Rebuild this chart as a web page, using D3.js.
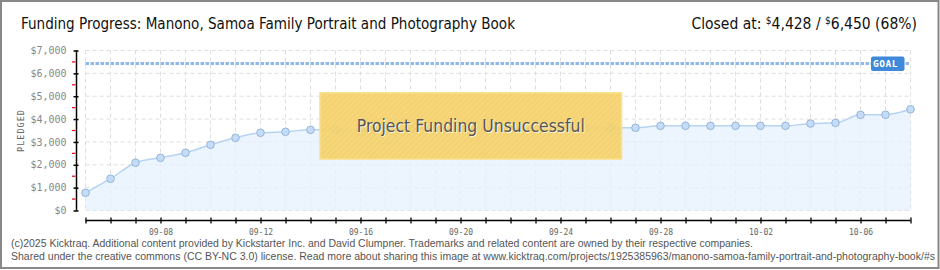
<!DOCTYPE html>
<html>
<head>
<meta charset="utf-8">
<script src="https://cdn.jsdelivr.net/npm/d3@7"></script>
<style>
  html, body { margin: 0; padding: 0; background: #fff; }
  svg { display: block; }
</style>
</head>
<body>
<div id="chart"></div>
<script>
// data
const days = ["2025-09-05","2025-09-06","2025-09-07","2025-09-08","2025-09-09","2025-09-10","2025-09-11",
  "2025-09-12","2025-09-13","2025-09-14","2025-09-15","2025-09-16","2025-09-17","2025-09-18","2025-09-19",
  "2025-09-20","2025-09-21","2025-09-22","2025-09-23","2025-09-24","2025-09-25","2025-09-26","2025-09-27",
  "2025-09-28","2025-09-29","2025-09-30","2025-10-01","2025-10-02","2025-10-03","2025-10-04","2025-10-05",
  "2025-10-06","2025-10-07","2025-10-08"];
const pledged = [775, 1390, 2090, 2305, 2525, 2875, 3180, 3400, 3445, 3530, 3535, 3545, 3560, 3570, 3580,
  3590, 3595, 3600, 3605, 3610, 3620, 3620, 3620, 3705, 3705, 3705, 3705, 3705, 3705, 3805, 3835, 4185, 4190, 4428];
const labelDays = ["2025-09-08","2025-09-12","2025-09-16","2025-09-20","2025-09-24","2025-09-28","2025-10-02","2025-10-06"];
const yTicks = [0, 1000, 2000, 3000, 4000, 5000, 6000, 7000];
const yMinor = [500, 1500, 2500, 3500, 4500, 5500, 6500];
const goal = 6450;
const closedAt = 4428;

const title = "Funding Progress: Manono, Samoa Family Portrait and Photography Book";
const footer1 = "(c)2025 Kicktraq. Additional content provided by Kickstarter Inc. and David Clumpner. Trademarks and related content are owned by their respective companies.";
const footer2 = "Shared under the creative commons (CC BY-NC 3.0) license. Read more about sharing this image at www.kicktraq.com/projects/1925385963/manono-samoa-family-portrait-and-photography-book/#s";

const W = 940, H = 270;
const parse = d3.timeParse("%Y-%m-%d");
const data = days.map((d, i) => ({ date: parse(d), value: pledged[i] }));

const x = d3.scaleTime()
  .domain(d3.extent(data, d => d.date))
  .range([85.5, 910.5]);
const y = d3.scaleLinear()
  .domain([0, 7000])
  .range([210.5, 50.5]);

const svg = d3.select("#chart").append("svg")
  .attr("width", W)
  .attr("height", H);

const defs = svg.append("defs");
const hatch = defs.append("pattern")
  .attr("id", "hatch")
  .attr("width", 4).attr("height", 4)
  .attr("patternUnits", "userSpaceOnUse")
  .attr("patternTransform", "rotate(45)");
hatch.append("rect").attr("width", 4).attr("height", 4).attr("fill", "#f6d36e");
hatch.append("line").attr("x1", 0).attr("y1", 0).attr("x2", 0).attr("y2", 4)
  .attr("stroke", "#f0c95e").attr("stroke-width", 1.5);

svg.append("rect").attr("width", W).attr("height", H).attr("fill", "#fff");

// title + closed at
svg.append("text")
  .attr("x", 21).attr("y", 29)
  .attr("textLength", 494).attr("lengthAdjust", "spacingAndGlyphs")
  .style("font-family", "'DejaVu Sans Condensed', 'Liberation Sans Narrow', sans-serif")
  .style("font-size", "15.5px")
  .style("fill", "#111")
  .text(title);

const fmt = d3.format(",");
const closed = svg.append("text")
  .attr("x", 917).attr("y", 29)
  .attr("text-anchor", "end")
  .style("font-family", "'DejaVu Sans Condensed', 'Liberation Sans Narrow', sans-serif")
  .style("font-size", "15.5px")
  .style("fill", "#111");
closed.append("tspan").text("Closed at:  ");
closed.append("tspan").attr("dy", -5).style("font-size", "10px").text("$");
closed.append("tspan").attr("dy", 5).text(fmt(closedAt) + " /  ");
closed.append("tspan").attr("dy", -5).style("font-size", "10px").text("$");
closed.append("tspan").attr("dy", 5).text(fmt(goal) + " (" + Math.floor(closedAt / goal * 100) + "%)");

// grid
const grid = svg.append("g").attr("stroke", "#dedede").attr("stroke-dasharray", "4,3").attr("stroke-width", 1);
grid.selectAll("line.h")
  .data(yTicks)
  .join("line")
  .attr("class", "h")
  .attr("x1", x.range()[0]).attr("x2", x.range()[1])
  .attr("y1", d => y(d)).attr("y2", d => y(d));
grid.selectAll("line.v")
  .data(data)
  .join("line")
  .attr("class", "v")
  .attr("x1", d => x(d.date)).attr("x2", d => x(d.date))
  .attr("y1", y(7000)).attr("y2", y(0));

// area + line
const area = d3.area()
  .x(d => x(d.date))
  .y0(y(0))
  .y1(d => y(d.value))
  .curve(d3.curveMonotoneX);
svg.append("path")
  .datum(data)
  .attr("d", area)
  .attr("fill", "#e6f0fc")
  .attr("fill-opacity", 0.75);

const line = d3.line()
  .x(d => x(d.date))
  .y(d => y(d.value))
  .curve(d3.curveMonotoneX);
svg.append("path")
  .datum(data)
  .attr("d", line)
  .attr("fill", "none")
  .attr("stroke", "#b6d3f3")
  .attr("stroke-width", 1.5);

svg.append("g").selectAll("circle")
  .data(data)
  .join("circle")
  .attr("cx", d => x(d.date))
  .attr("cy", d => y(d.value))
  .attr("r", 3.8)
  .attr("fill", "#c4dcf7")
  .attr("stroke", "#93b4da")
  .attr("stroke-width", 1);

// goal line
svg.append("line")
  .attr("x1", x.range()[0]).attr("x2", x.range()[1])
  .attr("y1", Math.round(y(goal)) + 0.5).attr("y2", Math.round(y(goal)) + 0.5)
  .attr("stroke", "#8fb9e8")
  .attr("stroke-width", 3)
  .attr("stroke-dasharray", "3.5,1.5");
const goalTag = svg.append("g").attr("transform", `translate(871,${Math.round(y(goal)) - 6.5})`);
goalTag.append("rect")
  .attr("width", 33.5).attr("height", 14.5)
  .attr("rx", 2)
  .attr("fill", "#3f89da");
goalTag.append("text")
  .attr("x", 14.5).attr("y", 10.5)
  .attr("text-anchor", "middle")
  .style("font-family", "'DejaVu Sans Mono', monospace")
  .style("font-size", "9.5px")
  .style("font-weight", "bold")
  .style("letter-spacing", "0.5px")
  .style("fill", "#fff")
  .text("GOAL");

// y axis
const yAxis = svg.append("g")
  .attr("transform", "translate(76.5,0)")
  .call(d3.axisLeft(y).tickValues(yTicks).tickSize(3).tickPadding(7).tickFormat(d => "$" + fmt(d)));
yAxis.select(".domain").attr("d", `M0,${y(7000)}V${y(0)}`).attr("stroke", "#000").attr("stroke-width", 1.5);
yAxis.selectAll(".tick line").attr("x1", -3).attr("x2", 2).attr("stroke", "#000").attr("stroke-width", 1.5);
yAxis.selectAll(".tick text")
  .style("font-family", "'DejaVu Sans Mono', monospace")
  .style("font-size", "10px")
  .style("fill", "#888");
yAxis.selectAll("line.minor")
  .data(yMinor)
  .join("line")
  .attr("class", "minor")
  .attr("x1", -4.5).attr("x2", -1)
  .attr("y1", d => y(d)).attr("y2", d => y(d))
  .attr("stroke", "#e0000f")
  .attr("stroke-width", 1.2);

svg.append("text")
  .attr("transform", "translate(23.5,130.5) rotate(-90)")
  .attr("text-anchor", "middle")
  .style("font-family", "'DejaVu Sans Mono', monospace")
  .style("font-size", "8.5px")
  .style("letter-spacing", "1px")
  .style("fill", "#666")
  .text("PLEDGED");

// x axis
const labelSet = new Set(labelDays);
const xAxis = svg.append("g")
  .attr("transform", "translate(0,220.5)")
  .call(d3.axisBottom(x)
    .tickValues(data.map(d => d.date))
    .tickSize(3)
    .tickPadding(6)
    .tickFormat(d => labelSet.has(d3.timeFormat("%Y-%m-%d")(d)) ? d3.timeFormat("%m-%d")(d) : ""));
xAxis.select(".domain").attr("d", `M${x.range()[0]},0H${x.range()[1]}`).attr("stroke", "#000").attr("stroke-width", 1.5);
xAxis.selectAll(".tick line").attr("y1", -3).attr("y2", 3).attr("stroke", "#000").attr("stroke-width", 1.3);
xAxis.selectAll(".tick text")
  .style("font-family", "'DejaVu Sans Mono', monospace")
  .style("font-size", "8px")
  .style("fill", "#666");

// unsuccessful banner
const bx0 = x(parse("2025-09-14")) + 9.5, bx1 = x(parse("2025-09-26")) + 11;
const by0 = y(5150), by1 = y(2250);
svg.append("rect")
  .attr("x", bx0).attr("y", by0)
  .attr("width", bx1 - bx0).attr("height", by1 - by0)
  .attr("fill", "url(#hatch)")
  .attr("fill-opacity", 0.92)
  .attr("stroke", "#f9e08c")
  .attr("stroke-width", 1.5);
const bannerText = "Project Funding Unsuccessful";
[["#fff", 1], ["#555", 0]].forEach(([c, o]) => {
  svg.append("text")
    .attr("x", (bx0 + bx1) / 2 + o).attr("y", 132 + o)
    .attr("text-anchor", "middle")
    .attr("textLength", 228).attr("lengthAdjust", "spacingAndGlyphs")
    .style("font-family", "'DejaVu Sans Condensed', 'Liberation Sans Narrow', sans-serif")
    .style("font-size", "18px")
    .style("fill", c)
    .style("fill-opacity", o ? 0.8 : 1)
    .text(bannerText);
});

// footer
svg.append("text")
  .attr("x", 11).attr("y", 247)
  .attr("textLength", 742).attr("lengthAdjust", "spacingAndGlyphs")
  .style("font-family", "'Liberation Sans', Arial, sans-serif")
  .style("font-size", "10.5px")
  .style("fill", "#555")
  .text(footer1);
svg.append("text")
  .attr("x", 11).attr("y", 259.5)
  .attr("textLength", 924).attr("lengthAdjust", "spacingAndGlyphs")
  .style("font-family", "'Liberation Sans', Arial, sans-serif")
  .style("font-size", "10.5px")
  .style("fill", "#555")
  .text(footer2);

// frame
svg.append("rect")
  .attr("x", 1).attr("y", 1)
  .attr("width", 937.5).attr("height", 267)
  .attr("fill", "none")
  .attr("stroke", "#888")
  .attr("stroke-width", 2);
</script>
</body>
</html>
